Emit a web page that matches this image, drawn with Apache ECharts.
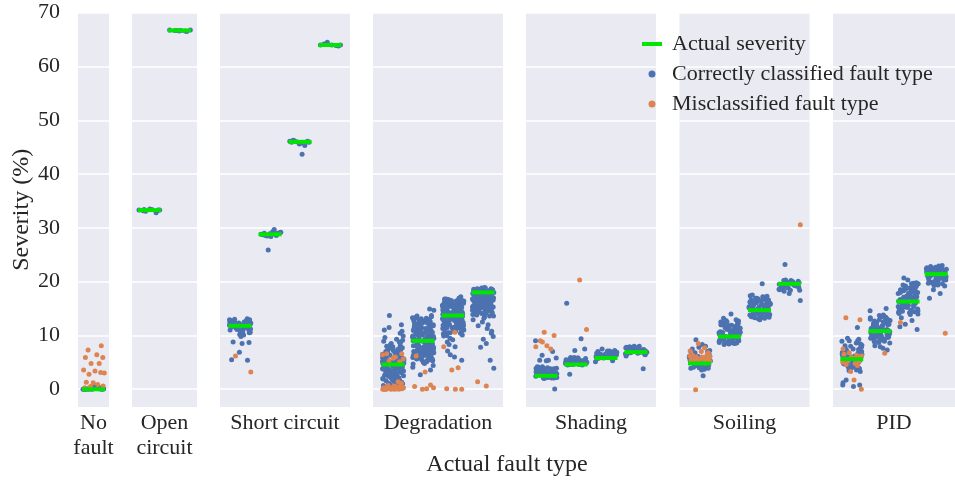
<!DOCTYPE html>
<html><head><meta charset="utf-8">
<script src="https://cdn.jsdelivr.net/npm/echarts@6/dist/echarts.min.js"></script>
<style>html,body{margin:0;padding:0;background:#fff}#c{width:955px;height:481px}</style>
</head><body><div id="c"></div>
<script>
// ---------------- DATA ----------------
const categories = ['No\nfault', 'Open\ncircuit', 'Short circuit', 'Degradation', 'Shading', 'Soiling', 'PID'];

// actual severity levels (%) per fault type
const sevNoFault = [0];
const sevOpen = [33.3, 66.7];
const sevShort = [11.8, 28.8, 46.0, 64.0];
const sevDegr = [4.6, 9.0, 13.7, 18.0];
const sevShad = [2.5, 4.6, 5.8, 6.9];
const sevSoil = [4.8, 9.8, 14.7, 19.6];
const sevPID = [5.6, 10.8, 16.3, 21.4];

// estimated severities, correctly classified fault type (one list per level)
const okNoFault = [[0, 0.1, 0, 0.2, 0, 0.7, 0.1, 0, 0.3, 0, 0.6, 0, 0.1, 0.2, 0, 0]];
const okOpen = [
  [33.3, 33.2, 33.4, 33.3, 33.1, 32.8, 33.3, 33.5, 33.2, 33.4],
  [66.7, 66.6, 66.8, 66.7, 66.5, 66.7, 66.8, 66.6]
];
const okShort = [
  [12.1, 11.4, 12.8, 11.9, 10.8, 12.4, 13.0, 11.2, 12.2, 10.5, 11.7, 12.6, 11.0, 12.0, 13.1, 11.5, 12.3, 10.2, 11.8, 12.5, 11.1, 12.9, 11.6, 10.7, 12.1, 11.3, 12.7, 11.9, 9.8, 12.4, 11.5, 12.0, 8.7, 8.8, 8.5, 6.9, 5.4, 5.5, 10.1, 11.2, 12.2, 11.8,
   11.9, 12.5, 11.3, 12.1, 10.9, 12.8, 11.6, 12.3, 11.1, 12.6, 11.8, 10.6, 12.2, 11.5, 12.9],
  [28.8, 29.0, 28.6, 29.2, 28.9, 28.7, 29.7, 28.5, 29.1, 28.8, 29.3, 28.6, 25.9, 28.9, 29.0, 28.4],
  [46.0, 46.2, 45.8, 46.1, 45.3, 46.0, 45.9, 46.3, 43.7, 45.6, 46.1, 45.9],
  [64.0, 64.1, 63.9, 64.5, 64.0, 63.8, 64.2, 64.0]
];
const okDegr = [
  [5.2, 2.8, 7.4, 3.9, 1.6, 6.1, 4.4, 8.3, 2.2, 5.7, 3.3, 6.8, 1.1, 4.9, 7.9, 3.6, 5.5, 2.5, 9.1, 4.1, 6.4, 1.8, 5.0, 3.1, 7.1, 4.7, 2.0, 6.6, 13.7, 3.8, 5.9, 0.8, 4.3, 8.7, 2.6, 6.2, 3.4, 5.3, 1.4, 7.6, 4.6, 12.0, 2.9, 6.9, 3.7, 5.6, 0.6, 4.0, 8.0, 2.3, 5.1, 11.5, 3.2, 6.5, 1.9, 4.8, 7.3, 2.7, 9.6, 5.8, 3.5, 1.2, 6.0, 4.2, 10.4, 2.4, 5.4, 7.8, 3.0, 6.3, 0.9, 4.5, 11.0, 2.1, 5.2, 8.5, 3.6, 6.7, 1.5, 4.9, 7.0, 2.8, 10.8, 5.7, 3.9, 1.7, 6.1, 4.4, 9.3, 2.5, 5.0, 7.5, 3.3, 0.7, 4.7, 6.4, 2.0, 8.9, 5.5, 3.1, 1.3, 6.8, 4.1, 9.9, 2.6, 5.9, 3.8, 7.2,
   4.3, 6.9, 2.9, 5.1, 7.7, 3.4, 6.0, 1.9, 4.6, 8.1, 3.0, 5.6, 2.3, 7.0, 4.0, 6.3, 1.0, 5.3, 3.7, 8.8, 2.1, 4.8, 6.6, 3.2, 5.9, 7.4, 2.7, 4.2, 1.6, 5.0],
  [9.5, 6.2, 12.1, 7.8, 10.7, 5.4, 11.6, 8.3, 13.0, 6.9, 10.0, 7.3, 12.6, 5.9, 9.1, 11.2, 8.7, 13.4, 6.5, 10.4, 7.6, 12.3, 5.1, 9.8, 11.9, 8.0, 6.7, 10.9, 13.7, 7.1, 9.3, 12.8, 5.6, 11.4, 8.5, 10.2, 6.3, 12.0, 7.9, 14.9, 9.7, 5.0, 11.0, 8.9, 13.2, 6.0, 10.6, 7.4, 12.5, 9.0, 4.8, 11.7, 8.2, 14.7, 6.8, 10.3, 7.7, 12.2, 5.3, 9.4, 11.3, 8.6, 13.1, 6.4, 10.8, 7.2, 4.1, 9.9, 12.7, 5.7, 11.5, 8.4, 10.1, 3.6, 6.6, 12.4, 7.5, 9.2, 11.8, 2.7, 8.1, 13.5, 6.1, 10.5, 7.0, 12.9, 5.5, 9.6, 11.1, 8.8, 4.4, 10.0, 6.9, 13.3, 7.8, 9.5, 12.0, 5.2, 11.4, 8.3, 10.7, 6.3, 4.7, 9.0, 12.6,
   10.2, 6.8, 12.4, 8.1, 11.0, 5.8, 9.3, 13.0, 7.5, 10.8, 6.1, 11.9, 8.6, 12.7, 9.9, 5.4, 11.3, 7.2, 13.3, 10.5, 8.9, 6.5, 12.1, 9.6, 7.8, 11.6, 10.0, 12.9, 6.3, 8.4, 13.6, 9.1, 11.1, 7.0, 12.2, 10.4, 5.6, 8.0, 11.8, 9.4],
  [14.8, 11.6, 16.2, 12.9, 15.5, 10.8, 13.7, 16.6, 12.2, 15.0, 11.1, 14.3, 16.9, 13.0, 10.3, 15.8, 12.6, 14.6, 11.9, 16.4, 13.4, 15.2, 10.0, 14.0, 12.4, 16.0, 11.4, 15.6, 13.2, 17.2, 12.0, 14.9, 10.6, 16.3, 13.8, 11.7, 15.3, 12.8, 14.4, 16.7, 11.0, 13.5, 15.9, 12.3, 9.5, 14.1, 16.1, 10.9, 13.1, 15.4, 12.7, 8.8, 14.7, 11.3, 16.5, 13.6, 12.1, 15.1, 7.9, 14.2, 10.4, 16.8, 13.3, 11.8, 15.7, 12.5, 6.4, 14.5, 10.7, 16.0, 13.9, 9.9, 15.0, 11.5, 5.4, 14.8, 12.9, 16.2, 8.3, 13.0, 15.5, 11.2, 14.3, 7.1, 12.4, 16.6, 10.1, 13.7, 15.8, 11.9, 6.0, 14.6, 12.2, 16.4, 9.2, 13.4, 15.2, 10.5,
   13.6, 15.9, 11.2, 14.7, 16.5, 12.6, 15.1, 10.8, 13.9, 16.2, 12.1, 14.4, 16.8, 11.6, 15.6, 13.3, 14.9, 12.3, 16.0, 10.5, 15.3, 13.0, 14.1, 16.6, 11.9, 15.0, 12.8, 14.6, 16.3, 13.5, 11.4, 15.7, 12.0, 14.2, 16.9, 13.1, 15.4, 12.5, 14.0, 16.4],
  [17.2, 15.1, 18.4, 16.0, 14.3, 17.7, 15.6, 18.8, 16.5, 13.8, 17.0, 15.3, 18.1, 16.8, 14.7, 17.5, 15.9, 18.6, 16.2, 14.0, 17.9, 15.4, 18.3, 16.6, 13.5, 17.3, 15.0, 18.0, 16.9, 14.5, 17.6, 15.7, 18.5, 16.3, 14.1, 17.1, 15.2, 18.7, 16.1, 13.2, 17.8, 15.8, 18.2, 16.7, 14.8, 17.4, 12.5, 18.4, 16.4, 14.4, 17.0, 11.8, 18.0, 16.0, 15.5, 10.4, 17.6, 14.9, 18.6, 12.0, 16.5, 10.8, 17.2, 15.1, 9.8, 18.1, 13.6, 16.8, 9.3, 17.7, 14.2, 8.5, 16.2, 18.3, 7.8, 15.6, 12.9, 17.4, 5.4, 16.6, 3.9, 18.5, 15.3, 11.3, 17.9, 16.9,
   16.4, 18.2, 14.6, 17.3, 15.5, 18.7, 16.1, 13.9, 17.8, 15.0, 18.4, 16.7, 14.3, 17.1, 15.8, 18.0, 16.3, 13.6, 17.5, 15.2, 18.6, 16.9, 14.8, 17.9, 15.6, 18.3, 16.0, 14.1, 17.2, 15.9, 18.8, 16.6, 14.5, 17.6, 15.3, 18.1, 16.2, 17.0, 15.7, 18.5, 14.2, 16.8, 17.4, 15.4, 18.9]
];
const okShad = [
  [3.0, 2.4, 3.6, 2.7, 3.3, 2.1, 3.9, 2.9, 2.5, 3.4, 2.2, 3.1, 4.1, 2.6, 3.7, 2.3, 3.2, 2.8, 3.5, 2.0, 3.8, 2.7, 3.0, 2.4, 3.3, 4.2, 2.6, 3.1, 2.2, 3.6, 2.9, 3.4, 2.5, 3.9, 2.8, 3.2, 2.1, 3.5, 2.7, 3.0, 2.3, 3.7, 2.6, 3.3, 0.05, 5.4, 5.4, 5.8, 6.3, 7.0, 9.0, 5.3, 2.9, 3.1,
   2.8, 3.5, 2.3, 3.9, 2.6, 3.2, 4.0, 2.5, 3.6, 2.9, 2.2, 3.4, 3.8, 2.7, 3.1, 4.2, 2.4, 3.7, 3.0, 2.1],
  [5.2, 4.6, 5.7, 4.9, 5.4, 4.5, 5.9, 5.0, 4.7, 5.5, 5.1, 4.8, 5.6, 5.3, 4.6, 5.8, 4.9, 5.2, 4.5, 5.4, 5.0, 5.7, 4.7, 5.3, 5.1, 4.8, 5.5, 5.0, 16.0, 9.4, 7.2, 7.5, 2.8, 5.2, 4.9, 5.6,
   5.3, 4.8, 5.6, 5.0, 5.9, 4.6, 5.4, 5.1, 5.7, 4.9, 5.5, 5.8, 5.2, 4.7, 5.0],
  [6.3, 5.8, 6.9, 6.1, 6.6, 5.7, 7.1, 6.4, 6.0, 6.8, 6.2, 5.9, 7.0, 6.5, 6.1, 6.7, 5.8, 6.4, 7.2, 6.3, 6.0, 6.6, 7.5, 5.3, 5.1, 6.2, 6.8,
   6.5, 6.0, 7.0, 6.3, 5.8, 6.7, 6.1, 7.1, 6.4, 5.9, 6.9, 6.6],
  [7.2, 6.7, 7.8, 7.0, 7.5, 6.5, 7.9, 7.3, 6.9, 7.6, 7.1, 6.6, 7.7, 7.4, 6.8, 8.0, 7.2, 6.4, 7.5, 7.0, 6.2, 7.3, 3.8, 7.6, 6.9, 7.1,
   7.4, 6.9, 7.8, 7.1, 6.6, 7.6, 7.3, 8.0, 6.8, 7.5, 7.0, 7.7]
];
const okSoil = [
  [4.5, 5.6, 4.1, 6.2, 5.0, 4.3, 6.8, 5.3, 4.0, 7.5, 5.8, 4.6, 6.5, 3.9, 8.3, 5.1, 4.4, 7.0, 5.5, 4.2, 6.0, 3.7, 9.2, 4.8, 5.9, 3.6, 7.8, 4.7, 6.3, 2.5, 5.2, 4.9, 8.0, 4.4, 5.7, 6.6, 4.1,
   4.3, 5.4, 4.6, 6.1, 3.9, 5.0, 4.2, 7.2, 4.7, 5.6],
  [10.4, 9.1, 11.7, 8.6, 12.3, 9.8, 10.9, 8.9, 11.2, 12.8, 9.4, 10.1, 11.9, 8.4, 10.6, 12.0, 9.6, 11.4, 8.8, 10.3, 12.6, 9.2, 11.0, 13.2, 9.9, 10.7, 8.5, 11.6, 12.2, 9.3, 10.0, 11.3, 8.7, 12.9, 10.5, 9.5, 11.8, 8.3, 10.8, 12.4, 9.0, 11.1, 9.7, 10.2, 14.0, 8.6, 11.5, 10.6, 9.2, 12.1,
   9.5, 11.5, 10.1, 12.5, 8.9, 10.8, 11.9, 9.3, 12.2, 10.4, 8.7, 11.1, 9.8, 12.7, 10.6, 9.1, 11.7, 10.0, 12.0, 8.6, 11.3, 9.6, 10.9, 12.4, 10.2],
  [15.3, 13.8, 16.6, 14.2, 15.9, 13.3, 17.0, 14.8, 16.2, 13.6, 15.5, 14.0, 17.4, 15.0, 13.1, 16.4, 14.5, 15.7, 13.9, 16.9, 14.3, 15.2, 12.9, 16.0, 14.7, 17.2, 13.5, 15.6, 14.1, 16.7, 15.1, 13.7, 16.3, 14.6, 15.8, 13.2, 17.5, 14.9, 16.1, 13.4, 15.4, 19.6, 14.4, 16.5,
   14.9, 16.2, 13.6, 15.4, 17.1, 14.3, 16.6, 13.9, 15.8, 14.6, 17.3, 15.1, 13.4, 16.0, 14.1, 15.6, 16.9, 13.8, 15.2, 14.4, 16.4, 15.0, 13.2, 16.8, 14.8],
  [19.4, 18.8, 20.1, 19.0, 19.7, 18.4, 20.3, 19.2, 18.6, 19.9, 19.5, 18.2, 20.0, 19.1, 18.9, 19.8, 19.3, 18.5, 20.2, 19.6, 23.2, 16.5, 17.8, 19.0, 19.4,
   19.1, 19.8, 18.6, 20.0, 19.3, 18.9, 19.6, 20.2, 18.4, 19.5]
];
const okPID = [
  [6.3, 4.6, 7.4, 5.1, 8.2, 4.0, 6.8, 5.6, 3.5, 7.9, 4.8, 6.1, 9.0, 5.3, 3.8, 7.1, 4.3, 6.6, 8.6, 5.0, 3.3, 7.6, 4.5, 6.0, 9.3, 5.8, 4.1, 7.0, 6.4, 11.5, 9.0, 0.8, 0.8, 1.7, 0.5, 1.2, 3.6, 8.0, 5.4, 7.3,
   5.2, 7.8, 4.2, 6.7, 8.9, 5.5, 3.9, 7.2, 6.2, 4.7, 8.4, 5.9, 4.4, 6.9, 7.5, 5.0, 9.5, 6.5, 4.9, 8.1],
  [11.4, 9.6, 12.7, 10.2, 13.3, 8.9, 11.9, 10.7, 12.2, 9.2, 13.7, 11.1, 10.0, 12.5, 8.6, 11.6, 13.0, 9.8, 10.5, 12.0, 9.4, 13.5, 11.3, 10.9, 8.7, 12.9, 9.0, 11.8, 10.3, 12.4, 15.0, 14.6, 7.9, 7.3, 8.1, 7.6, 11.2, 9.7,
   10.8, 12.3, 9.5, 11.5, 13.1, 10.1, 12.8, 9.1, 11.0, 13.6, 10.6, 12.1, 9.9, 11.7, 13.4, 10.4, 12.6, 8.8, 11.2, 13.0, 9.3, 12.4, 10.9, 11.9, 9.7, 12.9, 10.2, 11.4, 13.8, 10.7],
  [16.9, 14.6, 18.3, 15.4, 19.2, 14.1, 17.5, 15.9, 18.8, 14.9, 17.0, 16.2, 19.5, 15.1, 13.9, 18.0, 16.6, 14.4, 17.8, 15.6, 19.0, 16.0, 14.7, 18.5, 17.2, 15.3, 19.7, 16.4, 14.2, 17.7, 20.7, 19.6, 20.3, 13.3, 12.8, 12.1, 11.1, 11.6, 18.1, 15.8, 17.3, 16.8,
   15.7, 17.4, 14.3, 18.9, 16.1, 19.3, 14.8, 17.9, 15.2, 18.4, 16.7, 19.6, 14.0, 17.1, 15.5, 18.6, 16.3, 19.1, 14.5, 17.6, 15.0, 18.2, 16.9, 19.8, 15.9, 17.3, 14.9, 18.7, 16.5, 15.4, 17.8, 16.0, 19.4, 14.7, 18.0],
  [21.0, 22.1, 20.3, 21.7, 19.6, 22.4, 20.8, 21.3, 19.9, 22.0, 20.5, 21.9, 19.3, 21.5, 22.6, 20.1, 21.1, 19.8, 22.3, 20.6, 16.9, 17.8, 18.5, 21.2, 20.9, 22.9, 23.0,
   21.4, 20.4, 22.2, 19.5, 21.8, 20.7, 22.5, 19.2, 21.6, 20.2, 22.7, 21.0, 19.7, 22.0, 20.9, 21.3, 22.4, 20.0, 21.9, 20.5, 22.8, 19.4, 21.2, 20.8, 22.1]
];

// estimated severities, misclassified fault type (one list per level)
const misNoFault = [[8.1, 7.3, 6.4, 5.9, 5.9, 4.8, 4.8, 3.6, 3.4, 3.1, 2.8, 3.0, 1.2, 1.3, 0.9, 0.5, 0.6, 0.3]];
const misOpen = [[], []];
const misShort = [[6.2, 3.2], [], [], []];
const misDegr = [
  [0.1, 0.3, 0.0, 0.5, 0.2, 0.0, 0.4, 0.1, 0.6, 0.0, 0.3, 0.2, 0.1, 0.0, 0.5, 0.2, 0.4, 0.0, 0.1, 0.3, 0.7, 0.0, 0.2, 0.1, 1.1, 0.4, 0.0, 0.3, 1.4, 0.2, 6.6, 6.6, 6.0, 5.6, 5.3, 5.1, 6.4, 5.8, 1.0],
  [6.2, 3.2, 0.0, 0.8, 0.5, 0.1, 0.3],
  [10.6, 7.9, 4.0, 3.6, 0.0, 0.1, 0.0],
  [1.4, 0.6]
];
const misShad = [[10.6, 10.0, 9.0, 8.1, 7.9, 7.5, 8.8], [20.3, 11.1], [], []];
const misSoil = [[5.5, 6.0, 5.2, 6.3, 5.7, 5.0, 6.4, 5.4, 5.9, 6.1, 5.3, 4.9, 5.8, 6.2, 5.6, 5.1, 7.0, 7.1, 7.7, 8.5, 6.8, 5.5, 6.0, 5.2, -0.1], [], [], [30.6]];
const misPID = [[5.9, 5.2, 6.5, 4.8, 6.2, 5.5, 4.4, 6.8, 5.0, 6.0, 4.6, 5.7, 7.5, 6.3, 3.3, 12.9, 13.3, 1.7, 0.0, 5.3], [6.7], [12.4], [10.4]];

// ---------------- LAYOUT / STYLE ----------------
// fixed strip-plot jitter offsets (category units), applied cyclically
const jitter = [-0.31, 0.17, -0.04, 0.29, -0.21, 0.08, 0.34, -0.13, 0.22, -0.35, 0.01, 0.26, -0.18, 0.11, -0.27, 0.31, -0.08, 0.19, -0.33, 0.05, 0.24, -0.15, 0.36, -0.01, -0.24, 0.14, -0.10, 0.32, -0.29, 0.09, 0.21, -0.06, 0.27, -0.19, 0.03, -0.34, 0.16, -0.12, 0.30, -0.23, 0.07, -0.02, 0.25, -0.28, 0.12, 0.35, -0.16, 0.20, -0.09, -0.32, 0.28, -0.20, 0.06];
const panelLeft = [78, 132, 220, 373, 526, 679.5, 833];
const panelWidth = [31, 65, 130, 130, 130, 130, 130];
const panelPad = [0.517, 0.583, 0.667, 0.667, 0.667, 0.667, 0.667];

const sevAll = [sevNoFault, sevOpen, sevShort, sevDegr, sevShad, sevSoil, sevPID];
const okAll = [okNoFault, okOpen, okShort, okDegr, okShad, okSoil, okPID];
const misAll = [misNoFault, misOpen, misShort, misDegr, misShad, misSoil, misPID];

const FONT = 'Liberation Serif';
const TXT = '#262626';
const BLUE = '#4c72b0', ORANGE = '#dd8452', GREEN = '#00e600';
const TOP = 12.7, HEIGHT = 394.3;

function strip(levels, shift) {
  const out = [];
  levels.forEach((vals, i) => {
    vals.forEach((v, j) => {
      out.push([i + jitter[(j + i * 13 + shift) % jitter.length], v]);
    });
  });
  return out;
}

const grids = [], xAxes = [], yAxes = [], series = [];
categories.forEach((cat, k) => {
  const n = sevAll[k].length;
  grids.push({left: panelLeft[k], top: TOP, width: panelWidth[k], height: HEIGHT,
    show: true, backgroundColor: '#eaeaf2', borderWidth: 0, containLabel: false});
  xAxes.push({gridIndex: k, type: 'value', min: -panelPad[k], max: n - 1 + panelPad[k],
    axisLine: {show: false}, axisTick: {show: false}, axisLabel: {show: false}, splitLine: {show: false},
    name: cat, nameLocation: 'middle', nameGap: 4,
    nameTextStyle: {fontFamily: FONT, fontSize: 22, color: TXT, lineHeight: 25, verticalAlign: 'top'}});
  yAxes.push({gridIndex: k, type: 'value', min: -3.3, max: 70, splitNumber: 7,
    axisLine: {show: false}, axisTick: {show: false},
    axisLabel: {show: k === 0, fontFamily: FONT, fontSize: 22, color: TXT, margin: 18, showMinLabel: false},
    splitLine: {show: true, showMinLine: false, lineStyle: {color: '#ffffff', width: 1.5}},
    name: k === 0 ? 'Severity (%)' : '', nameLocation: 'middle', nameRotate: 90, nameGap: 42,
    nameTextStyle: {fontFamily: FONT, fontSize: 24, color: TXT}});
  series.push({type: 'scatter', name: 'Correctly classified fault type', xAxisIndex: k, yAxisIndex: k,
    data: strip(okAll[k], k * 3), symbol: 'circle', symbolSize: 5, itemStyle: {color: BLUE, opacity: 1}, z: 2, silent: true});
  series.push({type: 'scatter', name: 'Misclassified fault type', xAxisIndex: k, yAxisIndex: k,
    data: strip(misAll[k], k * 5 + 11), symbol: 'circle', symbolSize: 5, itemStyle: {color: ORANGE, opacity: 1}, z: 3, silent: true});
  series.push({type: 'scatter', name: 'Actual severity', xAxisIndex: k, yAxisIndex: k,
    data: sevAll[k].map((v, i) => [i, v]), symbol: 'rect', symbolSize: [23, 4], itemStyle: {color: GREEN, opacity: 1}, z: 4, silent: true});
});

const chart = echarts.init(document.getElementById('c'));
chart.setOption({
  animation: false,
  backgroundColor: '#ffffff',
  grid: grids, xAxis: xAxes, yAxis: yAxes, series: series,
  legend: {
    orient: 'vertical', left: 637, top: 28, itemWidth: 20, itemHeight: 7, itemGap: 8,
    selectedMode: false,
    textStyle: {fontFamily: FONT, fontSize: 22, color: TXT, padding: [0, 0, 0, 5]},
    data: [
      {name: 'Actual severity', icon: 'path://M0,0h20v4h-20z'},
      {name: 'Correctly classified fault type', icon: 'circle'},
      {name: 'Misclassified fault type', icon: 'circle'}
    ]
  },
  graphic: [{type: 'text', x: 507, y: 465,
    style: {text: 'Actual fault type', fontFamily: FONT, fontSize: 24, fill: TXT, textAlign: 'center', textVerticalAlign: 'middle'}}]
});
</script></body></html>
